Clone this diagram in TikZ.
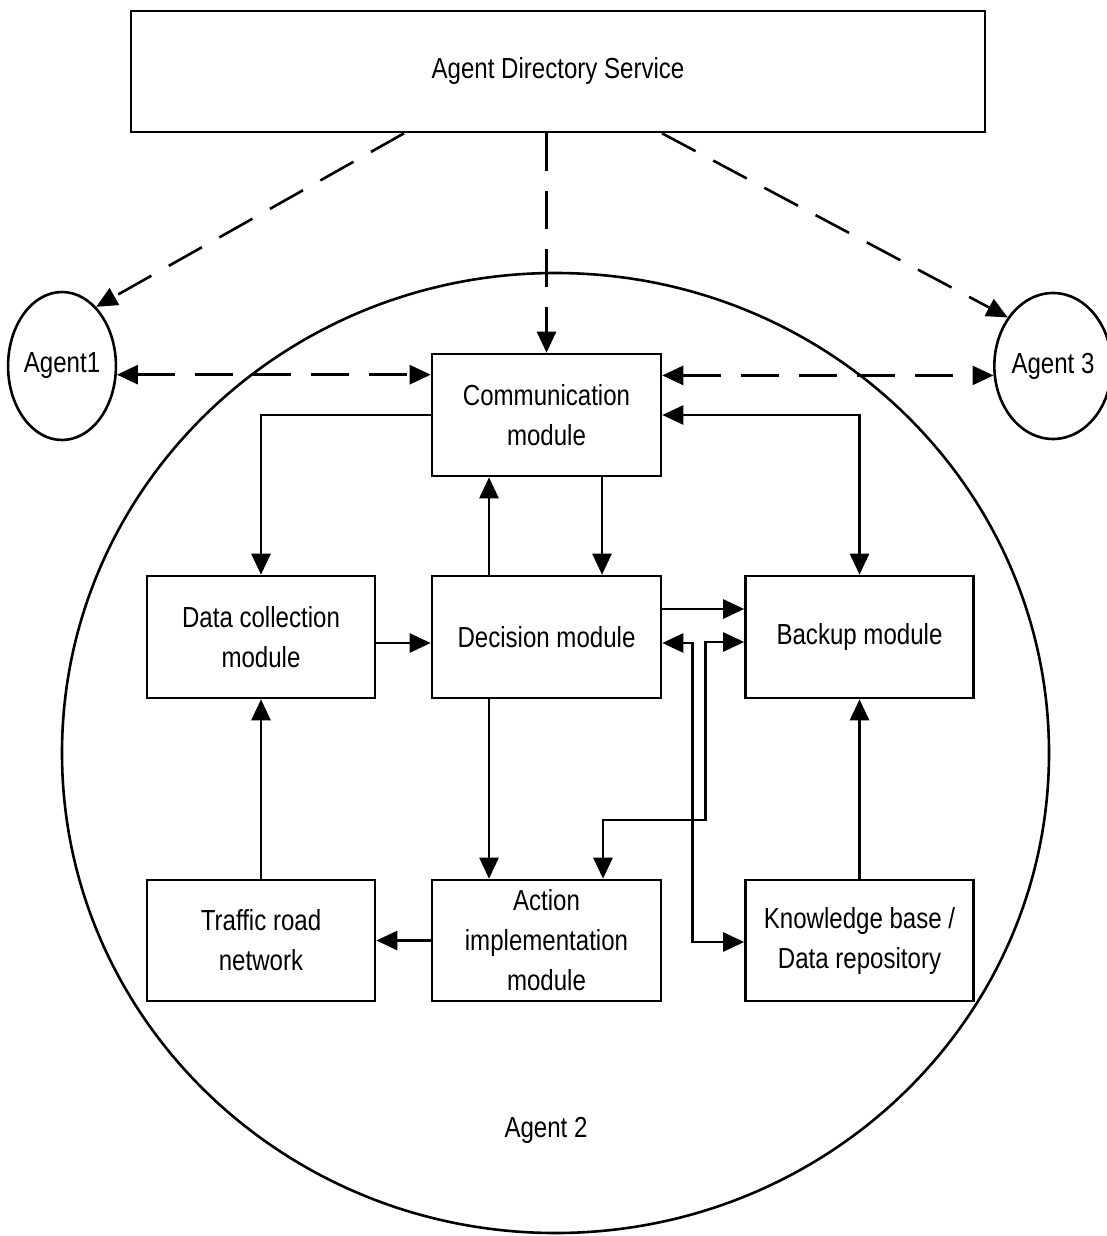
\documentclass[tikz,border=0pt]{standalone}
\usepackage{fontspec}
\setmainfont{Liberation Sans}[FakeStretch=0.83]
\usetikzlibrary{arrows.meta,shapes.geometric}

\tikzset{
  every node/.style={font=\fontsize{29}{40}\selectfont},
  modbox/.style={draw, line width=2.6pt, rectangle, align=center, inner sep=0pt,
    minimum width=229pt, minimum height=122pt},
  agentell/.style={draw, line width=2.6pt, ellipse, inner sep=0pt},
  conn/.style={line width=2.6pt},
  arr/.style={conn, -{Triangle[length=21pt,width=19pt]}},
  arrboth/.style={conn, {Triangle[length=21pt,width=19pt]}-{Triangle[length=21pt,width=19pt]}},
  dasharr/.style={arr, dash pattern=on 38pt off 20pt},
  dasharrboth/.style={arrboth, dash pattern=on 38pt off 20pt},
}

\begin{document}
\begin{tikzpicture}[x=1pt, y=-1pt]
\useasboundingbox (0,0) rectangle (1106,1236);

% the enclosing agent
\node[agentell, minimum width=987pt, minimum height=960pt] (ag2) at (555.5,753) {};
\node (ag2label) at (546,1130) {Agent 2};

% directory service and peer agents
\node[modbox, minimum width=854pt, minimum height=121pt] (ads) at (558,71.5) {Agent Directory Service};
\node[agentell, minimum width=104pt, minimum height=148pt] (ag1) at (62,366) {Agent1};
\node[agentell, minimum width=101pt, minimum height=146pt] (ag3) at (1053,366) {Agent 3};

% modules of agent 2
\node[modbox] (comm) at (546.5,415) {Communication\\module};
\node[modbox, minimum width=228pt] (data) at (261,637) {Data collection\\module};
\node[modbox] (dec) at (546.5,637) {Decision module};
\node[modbox, minimum width=228pt] (back) at (859.5,637) {Backup module};
\node[modbox, minimum width=228pt, minimum height=121pt] (traffic) at (261,940.5) {Traffic road\\network};
\node[modbox, minimum height=121pt] (act) at (546.5,940.5) {Action\\implementation\\module};
\node[modbox, minimum width=228pt, minimum height=121pt] (know) at (859.5,940.5) {Knowledge base /\\Data repository};

% directory lookups
\draw[dasharr] ([xshift=-154pt]ads.south) -- (ag1.60);
\draw[dasharr] (ads.south -| comm.north) -- (comm.north);
\draw[dasharr] ([xshift=104pt]ads.south) -- (ag3.133);

% inter-agent messages
\draw[dasharrboth] (ag1.-9) -- (comm.west |- ag1.-9);
\draw[dasharrboth] (comm.east |- ag3.189) -- (ag3.189);

% internal flows
\draw[arrboth] (comm.east) -| (back.north);
\draw[arr] (comm.west) -| (data.north);
\draw[arr] ([xshift=-57.5pt]dec.north) -- ([xshift=-57.5pt]comm.south);
\draw[arr] ([xshift=55.5pt]comm.south) -- ([xshift=55.5pt]dec.north);
\draw[arr] ([yshift=-6pt]data.east) -- ([yshift=-6pt]dec.west);
\draw[arr] ([yshift=28pt]dec.east) -- ([yshift=28pt]back.west);
\draw[arrboth] ([yshift=-6pt]dec.east) -- ++(30,0) |- ([yshift=-1.5pt]know.west);
\draw[arrboth] ([yshift=-5pt]back.west) -- ++(-39,0) -- ++(0,178) -| ([xshift=56.5pt]act.north);
\draw[arr] ([xshift=-57.5pt]dec.south) -- ([xshift=-57.5pt]act.north);
\draw[arr] (act.west) -- (traffic.east);
\draw[arr] (traffic.north) -- (data.south);
\draw[arr] (know.north) -- (back.south);
\end{tikzpicture}
\end{document}
